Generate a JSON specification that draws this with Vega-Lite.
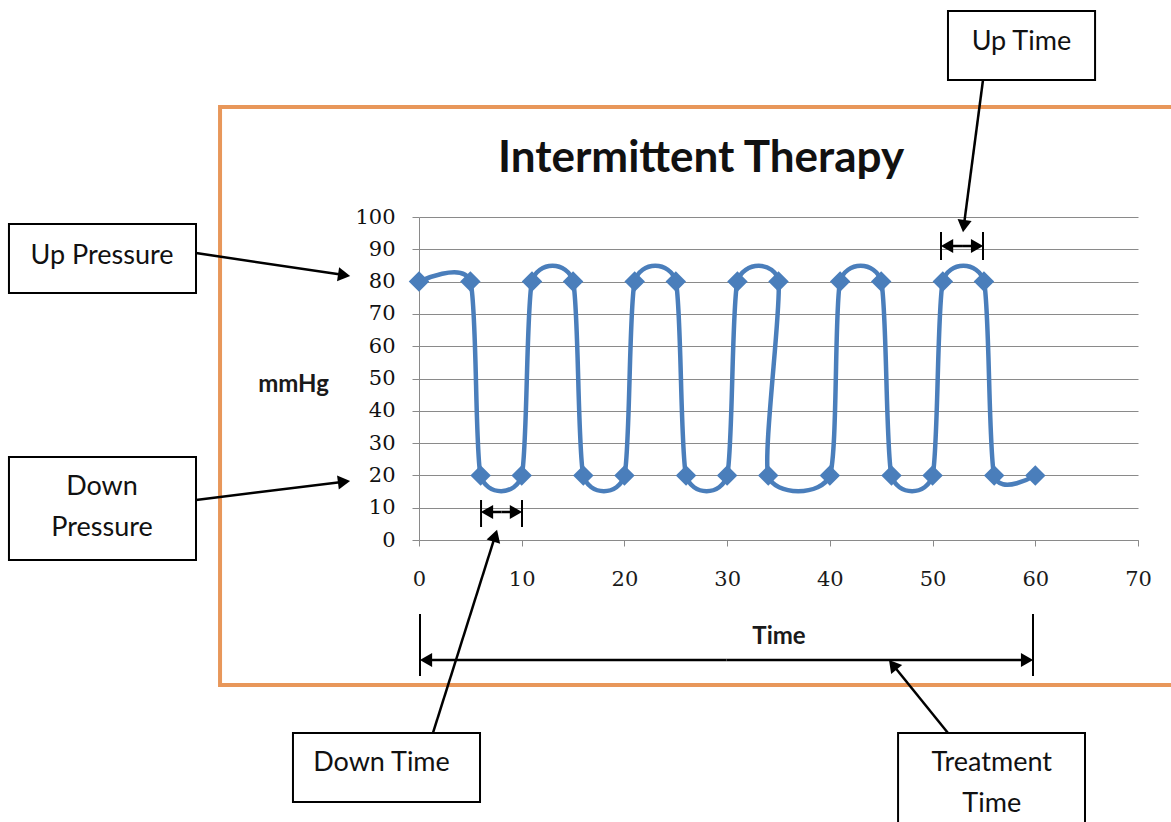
{
  "$schema": "https://vega.github.io/schema/vega-lite/v6.json",
  "width": 719,
  "height": 323,
  "autosize": {"type": "none"},
  "padding": {"left": 419, "top": 217, "right": 33, "bottom": 282},
  "background": "white",
  "config": {
    "view": {"stroke": null},
    "text": {"font": "Lato"}
  },
  "resolve": {"axis": {"x": "independent", "y": "independent"}},
  "datasets": {
    "series": [
      {"seq": 1, "time": 0, "mmHg": 80},
      {"seq": 2, "time": 5, "mmHg": 80},
      {"seq": 3, "time": 6, "mmHg": 20},
      {"seq": 4, "time": 10, "mmHg": 20},
      {"seq": 5, "time": 11, "mmHg": 80},
      {"seq": 6, "time": 15, "mmHg": 80},
      {"seq": 7, "time": 16, "mmHg": 20},
      {"seq": 8, "time": 20, "mmHg": 20},
      {"seq": 9, "time": 21, "mmHg": 80},
      {"seq": 10, "time": 25, "mmHg": 80},
      {"seq": 11, "time": 26, "mmHg": 20},
      {"seq": 12, "time": 30, "mmHg": 20},
      {"seq": 13, "time": 31, "mmHg": 80},
      {"seq": 14, "time": 35, "mmHg": 80},
      {"seq": 15, "time": 34, "mmHg": 20},
      {"seq": 16, "time": 40, "mmHg": 20},
      {"seq": 17, "time": 41, "mmHg": 80},
      {"seq": 18, "time": 45, "mmHg": 80},
      {"seq": 19, "time": 46, "mmHg": 20},
      {"seq": 20, "time": 50, "mmHg": 20},
      {"seq": 21, "time": 51, "mmHg": 80},
      {"seq": 22, "time": 55, "mmHg": 80},
      {"seq": 23, "time": 56, "mmHg": 20},
      {"seq": 24, "time": 60, "mmHg": 20}
    ],
    "frame": [{"x": -19.37, "x2": 76, "y": 134.06, "y2": -44.89}],
    "heading": [{"text": "Intermittent Therapy", "x": 27.46, "y": 113.93}],
    "boxes": [
      {"name": "Up Time", "x": 51.5, "x2": 65.82, "y": 163.78, "y2": 142.41},
      {"name": "Up Pressure", "x": -39.92, "x2": -21.71, "y": 97.83, "y2": 76.47},
      {"name": "Down Pressure", "x": -39.92, "x2": -21.71, "y": 25.7, "y2": -6.19},
      {"name": "Down Time", "x": -12.27, "x2": 5.94, "y": -59.75, "y2": -81.11},
      {"name": "Treatment Time", "x": 46.64, "x2": 64.84, "y": -59.75, "y2": -89.78}
    ],
    "labels": [
      {"text": "Up Time", "x": 58.65, "y": 154.18},
      {"text": "Up Pressure", "x": -30.86, "y": 87.93},
      {"text": "Down\nPressure", "x": -30.86, "y": 16.41},
      {"text": "Down Time", "x": -3.65, "y": -69.04},
      {"text": "Treatment\nTime", "x": 55.76, "y": -69.04}
    ],
    "arrows": [
      {"x": -21.71, "y": 88.85, "x2": -7.29, "y2": 82.01},
      {"x": -21.71, "y": 12.38, "x2": -7.3, "y2": 18.05},
      {"x": 54.91, "y": 142.41, "x2": 53.04, "y2": 97.18},
      {"x": 1.36, "y": -59.75, "x2": 7.42, "y2": 1.33},
      {"x": 51.5, "y": -59.75, "x2": 46.13, "y2": -38.61},
      {"x": 52.87, "y": 91.02, "x2": 51.41, "y2": 91.02},
      {"x": 52.87, "y": 91.02, "x2": 54.33, "y2": 91.02},
      {"x": 8.03, "y": 8.67, "x2": 6.62, "y2": 8.67},
      {"x": 8.03, "y": 8.67, "x2": 9.44, "y2": 8.67},
      {"x": 29.94, "y": -37.15, "x2": 0.68, "y2": -37.15},
      {"x": 29.94, "y": -37.15, "x2": 59.2, "y2": -37.15}
    ],
    "bars": [
      {"x": 50.82, "y": 95.36, "y2": 86.69},
      {"x": 54.91, "y": 95.36, "y2": 86.69},
      {"x": 6.04, "y": 12.38, "y2": 4.02},
      {"x": 10.03, "y": 12.38, "y2": 4.02},
      {"x": 0.1, "y": -22.91, "y2": -42.11},
      {"x": 59.78, "y": -22.91, "y2": -42.11}
    ]
  },
  "layer": [
    {
      "data": {"name": "series"},
      "mark": {"type": "line", "interpolate": "cardinal", "tension": 0.35, "color": "#4A7EBB", "strokeWidth": 4.5, "clip": false},
      "encoding": {
        "x": {
          "field": "time", "type": "quantitative",
          "scale": {"domain": [0, 70], "nice": false, "zero": false},
          "axis": {
            "title": "Time",
            "values": [0, 10, 20, 30, 40, 50, 60, 70],
            "grid": false,
            "domainColor": "#8A8A8A",
            "tickColor": "#8A8A8A",
            "tickSize": 6,
            "labelFont": "DejaVu Serif",
            "labelFontSize": 21,
            "labelColor": "#1a1a1a",
            "labelPadding": 22,
            "labelFlush": false,
            "labelOverlap": false,
            "titleFont": "Lato",
            "titleFontSize": 24,
            "titleFontWeight": "bold",
            "titleColor": "#1a1a1a",
            "titleBaseline": "middle",
            "titleY": 96
          }
        },
        "y": {
          "field": "mmHg", "type": "quantitative",
          "scale": {"domain": [0, 100], "nice": false, "zero": false},
          "axis": {
            "title": "mmHg",
            "values": [0, 10, 20, 30, 40, 50, 60, 70, 80, 90, 100],
            "grid": true,
            "gridColor": "#8A8A8A",
            "gridWidth": 1,
            "gridOpacity": 1,
            "domainColor": "#8A8A8A",
            "tickColor": "#8A8A8A",
            "tickSize": 7,
            "labelFont": "DejaVu Serif",
            "labelFontSize": 21,
            "labelColor": "#111111",
            "labelPadding": 17,
            "labelFlush": false,
            "labelOverlap": false,
            "titleFont": "Lato",
            "titleFontSize": 24,
            "titleFontWeight": "bold",
            "titleColor": "#1a1a1a",
            "titleAngle": 0,
            "titleAlign": "center",
            "titleBaseline": "middle",
            "titleX": -126,
            "titleY": 167
          }
        },
        "order": {"field": "seq", "type": "quantitative"}
      }
    },
    {
      "data": {"name": "series"},
      "mark": {"type": "point", "shape": "diamond", "filled": true, "size": 420, "color": "#4A7EBB", "opacity": 1, "clip": false},
      "encoding": {
        "x": {"field": "time", "type": "quantitative", "scale": {"domain": [0, 70], "nice": false, "zero": false}, "axis": null},
        "y": {"field": "mmHg", "type": "quantitative", "scale": {"domain": [0, 100], "nice": false, "zero": false}, "axis": null}
      }
    },
    {
      "data": {"name": "frame"},
      "mark": {"type": "rect", "fill": null, "stroke": "#E8975A", "strokeWidth": 4, "clip": false},
      "encoding": {
        "x": {"field": "x", "type": "quantitative", "scale": {"domain": [0, 70], "nice": false, "zero": false}, "axis": null},
        "x2": {"field": "x2"},
        "y": {"field": "y", "type": "quantitative", "scale": {"domain": [0, 100], "nice": false, "zero": false}, "axis": null},
        "y2": {"field": "y2"}
      }
    },
    {
      "data": {"name": "heading"},
      "mark": {"type": "text", "font": "Lato", "fontSize": 44, "fontWeight": "bold", "color": "#111111", "align": "center", "baseline": "alphabetic", "clip": false},
      "encoding": {
        "x": {"field": "x", "type": "quantitative", "scale": {"domain": [0, 70], "nice": false, "zero": false}, "axis": null},
        "y": {"field": "y", "type": "quantitative", "scale": {"domain": [0, 100], "nice": false, "zero": false}, "axis": null},
        "text": {"field": "text"}
      }
    },
    {
      "data": {"name": "boxes"},
      "mark": {"type": "rect", "fill": "white", "stroke": "black", "strokeWidth": 2, "clip": false},
      "encoding": {
        "x": {"field": "x", "type": "quantitative", "scale": {"domain": [0, 70], "nice": false, "zero": false}, "axis": null},
        "x2": {"field": "x2"},
        "y": {"field": "y", "type": "quantitative", "scale": {"domain": [0, 100], "nice": false, "zero": false}, "axis": null},
        "y2": {"field": "y2"}
      }
    },
    {
      "data": {"name": "labels"},
      "mark": {"type": "text", "font": "Lato", "fontSize": 27, "color": "#111111", "align": "center", "baseline": "middle", "lineBreak": "\n", "lineHeight": 41, "clip": false},
      "encoding": {
        "x": {"field": "x", "type": "quantitative", "scale": {"domain": [0, 70], "nice": false, "zero": false}, "axis": null},
        "y": {"field": "y", "type": "quantitative", "scale": {"domain": [0, 100], "nice": false, "zero": false}, "axis": null},
        "text": {"field": "text"}
      }
    },
    {
      "data": {"name": "arrows"},
      "mark": {"type": "rule", "color": "black", "strokeWidth": 2.5, "clip": false},
      "encoding": {
        "x": {"field": "x", "type": "quantitative", "scale": {"domain": [0, 70], "nice": false, "zero": false}, "axis": null},
        "x2": {"field": "x2"},
        "y": {"field": "y", "type": "quantitative", "scale": {"domain": [0, 100], "nice": false, "zero": false}, "axis": null},
        "y2": {"field": "y2"}
      }
    },
    {
      "data": {"name": "arrows"},
      "transform": [
        {"calculate": "atan2(-(datum.y2 - datum.y) * 3.23, (datum.x2 - datum.x) * 10.271) * 180 / PI", "as": "angle"}
      ],
      "mark": {"type": "point", "shape": "triangle-right", "filled": true, "size": 200, "color": "black", "opacity": 1, "clip": false},
      "encoding": {
        "x": {"field": "x2", "type": "quantitative", "scale": {"domain": [0, 70], "nice": false, "zero": false}, "axis": null},
        "y": {"field": "y2", "type": "quantitative", "scale": {"domain": [0, 100], "nice": false, "zero": false}, "axis": null},
        "angle": {"field": "angle", "type": "quantitative", "scale": null}
      }
    },
    {
      "data": {"name": "bars"},
      "mark": {"type": "rule", "color": "black", "strokeWidth": 2, "clip": false},
      "encoding": {
        "x": {"field": "x", "type": "quantitative", "scale": {"domain": [0, 70], "nice": false, "zero": false}, "axis": null},
        "y": {"field": "y", "type": "quantitative", "scale": {"domain": [0, 100], "nice": false, "zero": false}, "axis": null},
        "y2": {"field": "y2"}
      }
    }
  ]
}
